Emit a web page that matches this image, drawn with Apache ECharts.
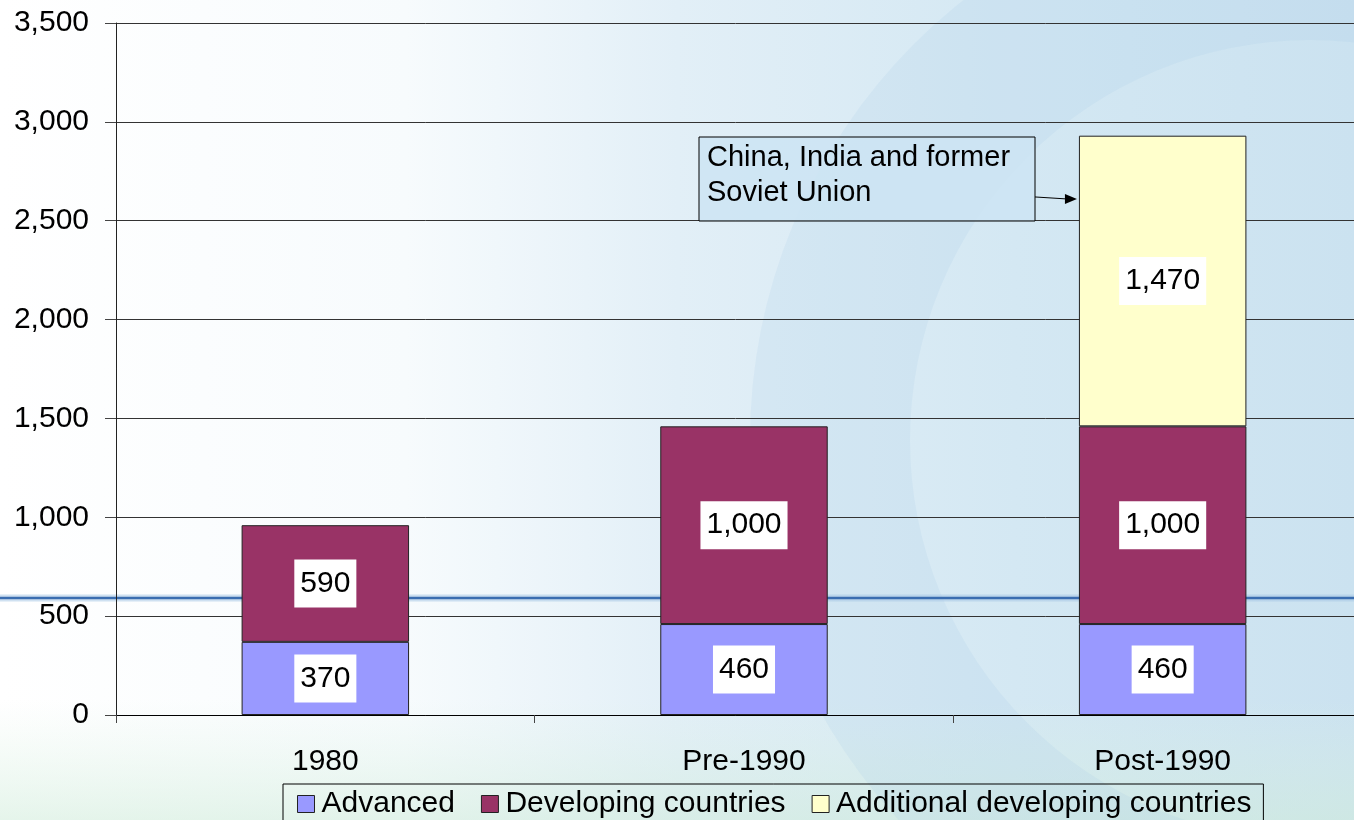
<!DOCTYPE html>
<html>
<head>
<meta charset="utf-8">
<script src="https://cdn.jsdelivr.net/npm/echarts@6/dist/echarts.min.js"></script>
<style>
  html, body { margin: 0; padding: 0; background: #fff; }
  #chart { width: 1354px; height: 820px; }
</style>
</head>
<body>
<div id="chart"></div>
<script>
const categories = ['1980', 'Pre-1990', 'Post-1990'];
const advanced = [370, 460, 460];
const developing = [590, 1000, 1000];
const additional = [null, null, 1470];
const seriesNames = ['Advanced', 'Developing countries', 'Additional developing countries'];
const yMin = 0, yMax = 3500, yStep = 500;
const noteText = 'China, India and former\nSoviet Union';
const noteAnchor = 2610; // value where the arrow meets the Post-1990 bar

const fontFamily = '"Liberation Sans", Arial, sans-serif';
const fmt = v => Number(v).toLocaleString('en-US');

const chart = echarts.init(document.getElementById('chart'));

const segmentLabel = {
  show: true,
  position: 'inside',
  formatter: p => fmt(p.value),
  color: '#000',
  fontSize: 30,
  fontFamily: fontFamily,
  backgroundColor: '#fff',
  padding: [10, 6, 8, 6]
};

function barSeries(name, data, color) {
  return {
    name: name,
    type: 'bar',
    stack: 'total',
    barWidth: '40%',
    data: data,
    itemStyle: { color: color, borderColor: '#222', borderWidth: 1 },
    label: segmentLabel,
    z: 3
  };
}

// decorative slide background
const background = [
  {
    type: 'rect', z: -30, silent: true,
    shape: { x: 0, y: 0, width: 1354, height: 820 },
    style: {
      fill: new echarts.graphic.LinearGradient(0, 0, 1, 0, [
        { offset: 0, color: '#ffffff' },
        { offset: 0.3, color: '#f7fbfd' },
        { offset: 0.5, color: '#e2eff7' },
        { offset: 0.75, color: '#d4e8f3' },
        { offset: 1, color: '#cbe2f0' }
      ])
    }
  },
  {
    type: 'rect', z: -29, silent: true,
    shape: { x: 0, y: 700, width: 1354, height: 120 },
    style: {
      fill: new echarts.graphic.LinearGradient(0, 0, 0, 1, [
        { offset: 0, color: 'rgba(220,242,228,0)' },
        { offset: 1, color: 'rgba(208,236,218,0.55)' }
      ])
    }
  },
  {
    type: 'ring', z: -28, silent: true,
    shape: { cx: 1310, cy: 440, r: 560, r0: 400 },
    style: { fill: 'rgba(160,200,230,0.16)' }
  },
  {
    type: 'line', z: -26, silent: true,
    shape: { x1: 0, y1: 598, x2: 1354, y2: 598 },
    style: { stroke: 'rgba(170,200,230,0.55)', lineWidth: 7 }
  },
  {
    type: 'line', z: -25, silent: true,
    shape: { x1: 0, y1: 598, x2: 1354, y2: 598 },
    style: { stroke: '#3a6db0', lineWidth: 2.5 }
  }
];

chart.setOption({
  animation: false,
  textStyle: { fontFamily: fontFamily },
  grid: { left: 116, right: -18, top: 23, bottom: 105, outerBoundsMode: 'none' },
  legend: {
    left: 283,
    top: 784,
    data: seriesNames,
    icon: 'rect',
    itemWidth: 17,
    itemHeight: 17,
    itemGap: 26,
    padding: [5, 12, 8, 14],
    borderColor: '#000',
    borderWidth: 1,
    textStyle: { fontSize: 30, color: '#000', fontFamily: fontFamily, padding: [0, 0, 0, 2] },
    itemStyle: { borderColor: '#222', borderWidth: 1 }
  },
  xAxis: {
    type: 'category',
    data: categories,
    axisLine: { lineStyle: { color: '#000', width: 1 } },
    axisTick: { show: true, length: 8, lineStyle: { color: '#444' } },
    axisLabel: { fontSize: 30, color: '#000', margin: 32 }
  },
  yAxis: {
    type: 'value',
    min: yMin,
    max: yMax,
    interval: yStep,
    axisLine: { show: true, lineStyle: { color: '#222', width: 1 } },
    axisTick: { show: true, length: 11, lineStyle: { color: '#444' } },
    axisLabel: { fontSize: 30, color: '#000', margin: 27, formatter: fmt },
    splitLine: { show: true, lineStyle: { color: '#333', width: 1 } }
  },
  series: [
    barSeries(seriesNames[0], advanced, '#9999ff'),
    barSeries(seriesNames[1], developing, '#993366'),
    barSeries(seriesNames[2], additional, '#ffffcc')
  ],
  graphic: background
});

// annotation box and arrow, anchored to the Post-1990 bar
const c0 = chart.convertToPixel({ xAxisIndex: 0 }, 0);
const c1 = chart.convertToPixel({ xAxisIndex: 0 }, 1);
const tip = chart.convertToPixel({ gridIndex: 0 }, [categories.length - 1, noteAnchor]);
const tipX = tip[0] - (c1 - c0) * 0.2 - 2;
const tipY = tip[1];
const boxX = 699, boxY = 137, boxW = 336, boxH = 84;

chart.setOption({
  graphic: background.concat([
    {
      type: 'rect', z: 50, silent: true,
      shape: { x: boxX, y: boxY, width: boxW, height: boxH },
      style: { fill: 'rgba(205,228,243,0.85)', stroke: '#000', lineWidth: 1 }
    },
    {
      type: 'text', z: 51, silent: true,
      x: boxX + 8, y: boxY + 3,
      style: { text: noteText, font: '29px ' + fontFamily, fill: '#000', lineHeight: 35 }
    },
    {
      type: 'line', z: 51, silent: true,
      shape: { x1: boxX + boxW, y1: tipY - 2, x2: tipX - 10, y2: tipY },
      style: { stroke: '#000', lineWidth: 1 }
    },
    {
      type: 'polygon', z: 51, silent: true,
      shape: { points: [[tipX, tipY], [tipX - 12, tipY - 5], [tipX - 12, tipY + 5]] },
      style: { fill: '#000' }
    }
  ])
});

window.addEventListener('resize', function () {
  chart.resize();
});
</script>
</body>
</html>
